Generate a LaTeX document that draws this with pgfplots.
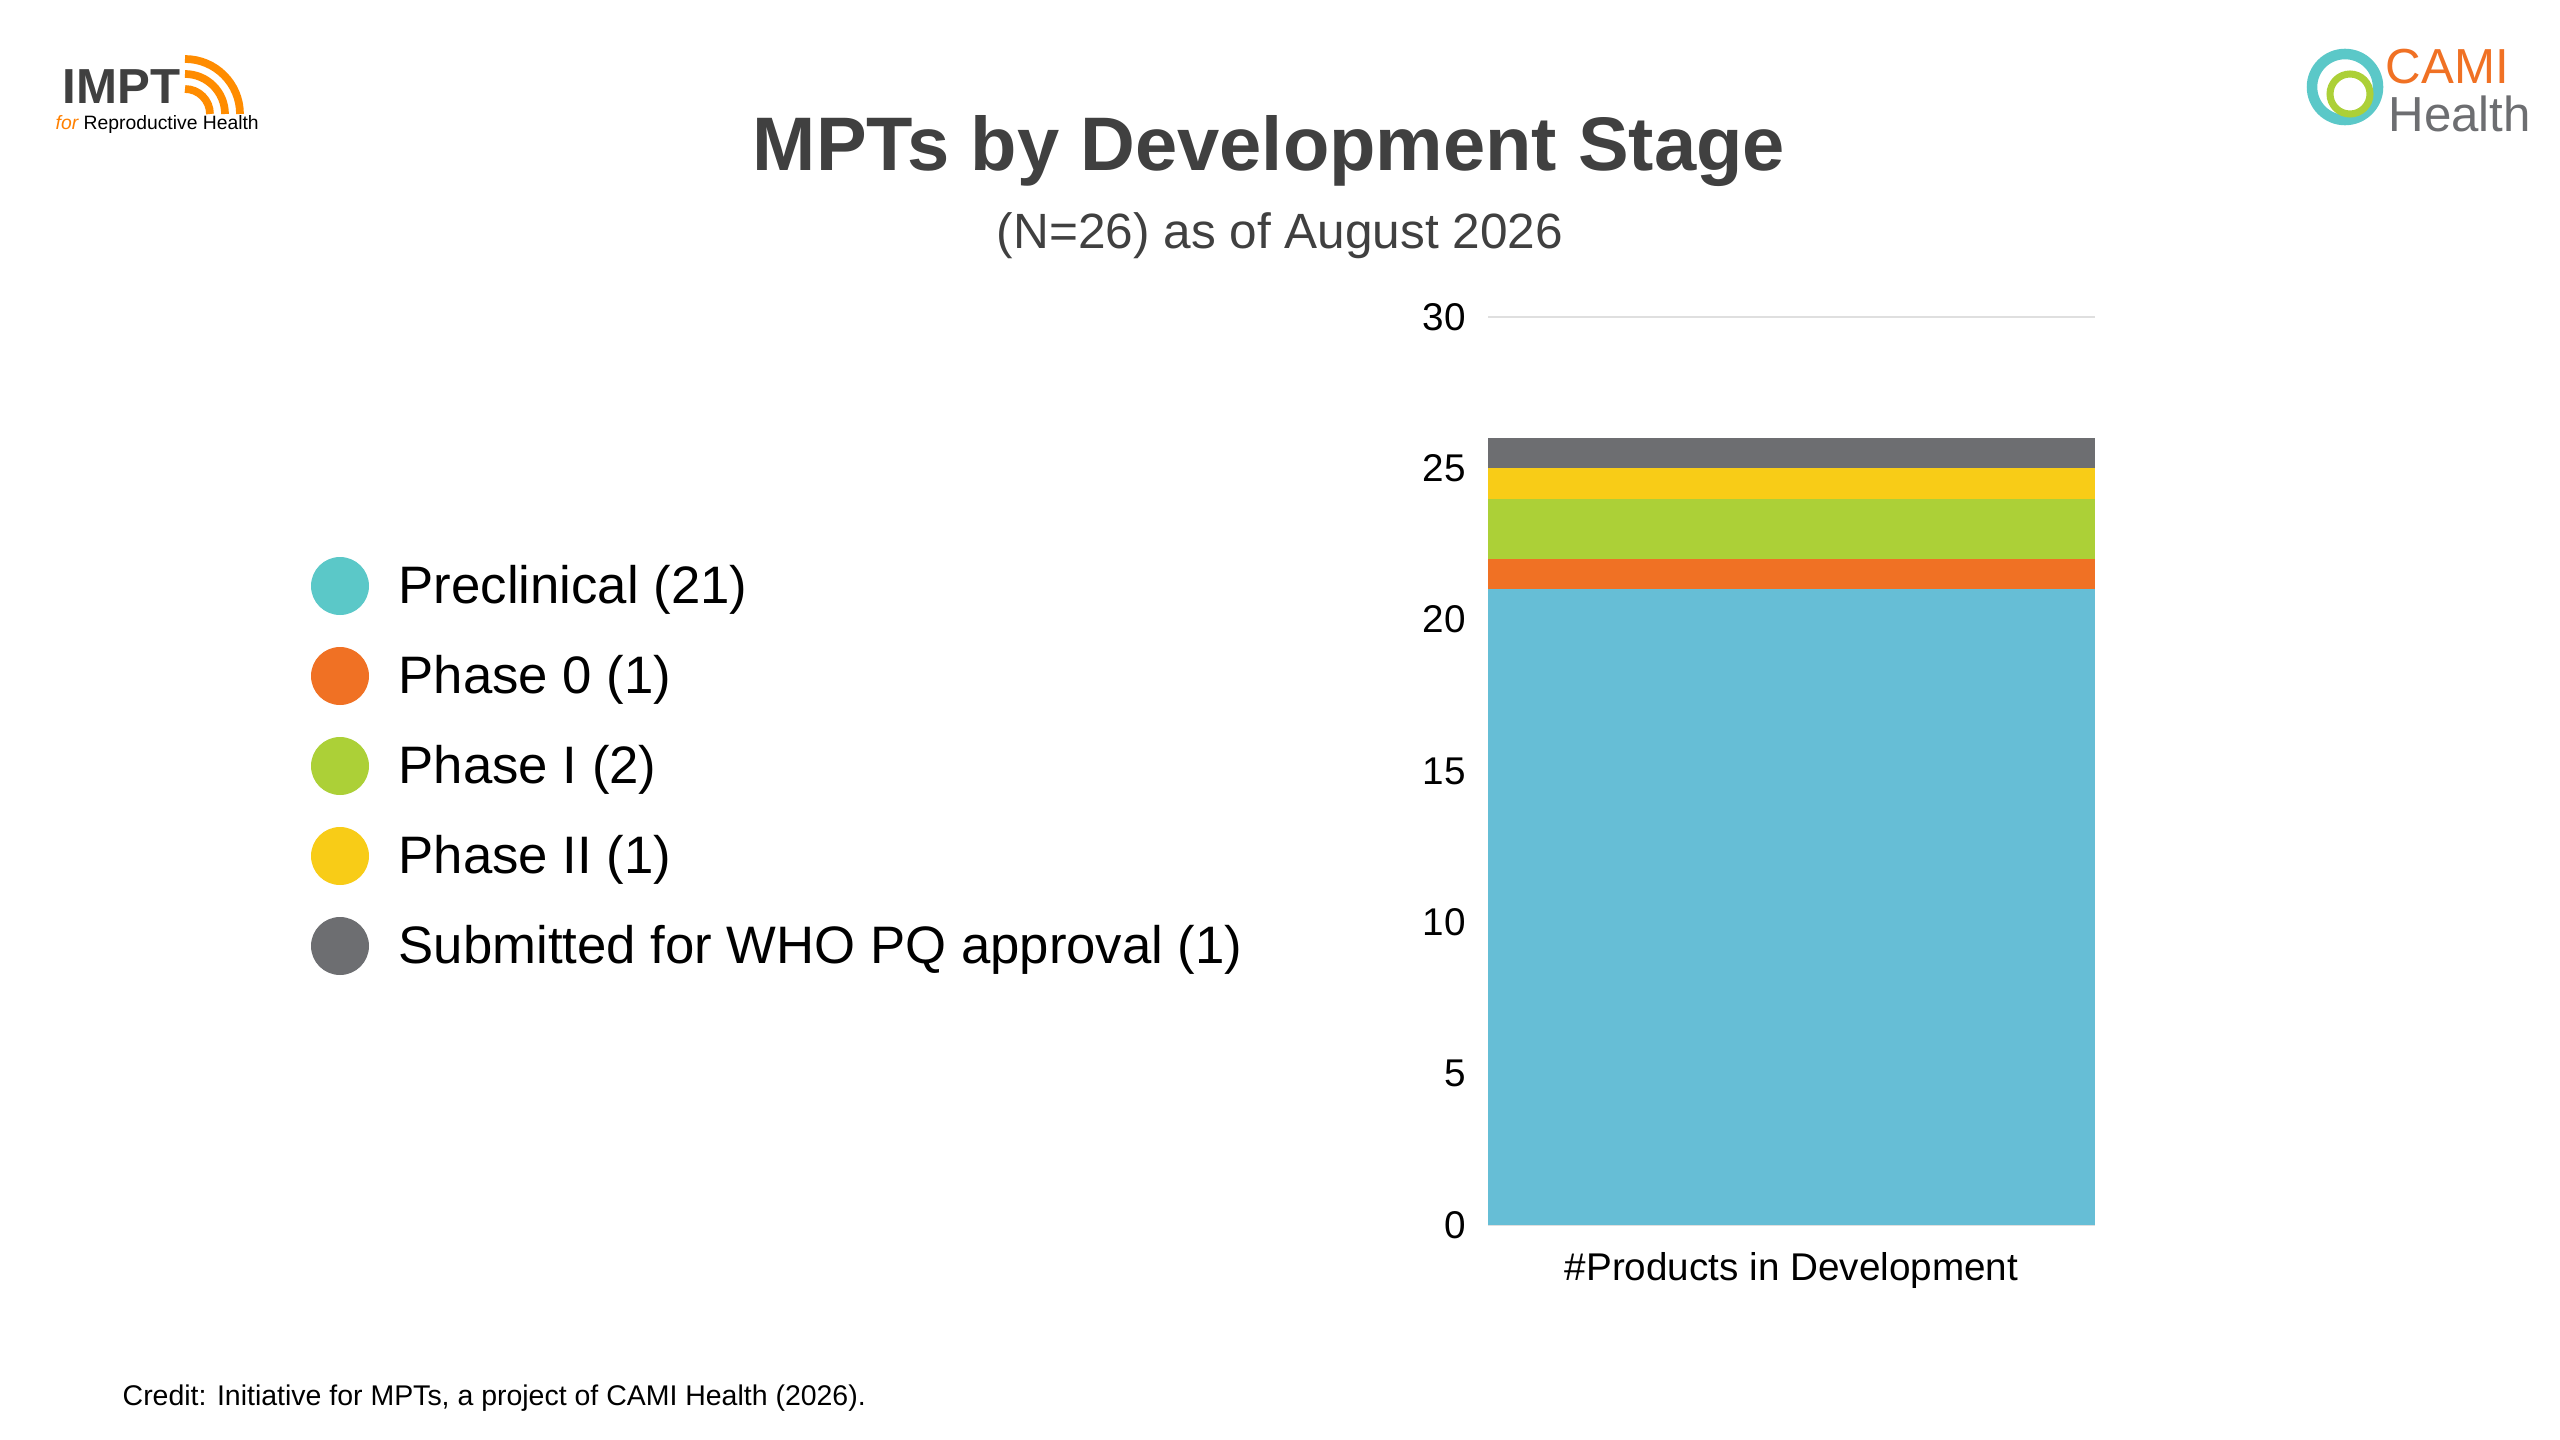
\documentclass[border=0pt]{standalone}
\usepackage{pgfplots}
\pgfplotsset{compat=1.18}
\usepackage{fontspec}
\setmainfont{Liberation Sans}
\definecolor{cPre}{HTML}{66BED6}
\definecolor{cPreL}{HTML}{5BC8C8}
\definecolor{cP0}{HTML}{F07124}
\definecolor{cP1}{HTML}{ACD037}
\definecolor{cP2}{HTML}{F8CC17}
\definecolor{cWHO}{HTML}{6D6E71}
\definecolor{txt}{HTML}{404040}
\begin{document}
\begin{tikzpicture}
\fill[white] (0,0) rectangle (25.6,14.39);
\node[font=\fontsize{21.6}{26}\selectfont\bfseries,text=txt] at (12.69,12.88) {MPTs by Development Stage};
\node[font=\fontsize{14.1}{17}\selectfont,text=txt] at (12.80,12.03) {(N=26) as of August 2026};
\foreach \y/\c/\t in {8.53/cPreL/Preclinical (21),7.63/cP0/Phase 0 (1),6.73/cP1/Phase I (2),5.83/cP2/Phase II (1),4.93/cWHO/Submitted for WHO PQ approval (1)}{
  \fill[\c] (3.40,\y) circle (0.29);
  \node[anchor=west,font=\fontsize{15}{18}\selectfont,inner sep=0] at (3.98,\y-0.04) {\t};
}
\node[anchor=west,font=\fontsize{8.1}{10}\selectfont,inner sep=0] at (1.22,0.41) {Credit: Initiative for MPTs, a project of CAMI Health (2026).};
% logos
\node[anchor=west,font=\fontsize{14}{16}\selectfont\bfseries,text=txt,inner sep=0] at (0.62,13.52) {IMPT};
\foreach \r in {0.25,0.4,0.55}{\draw[orange!90!yellow,line width=2.2pt] (1.85+\r,13.25) arc (0:90:\r);}
\node[anchor=west,font=\fontsize{5.5}{7}\selectfont,inner sep=0] at (0.55,13.14) {\textcolor{orange}{\itshape for} Reproductive Health};
\draw[cPreL,line width=3pt] (23.45,13.52) circle (0.33);
\draw[cP1,line width=2pt] (23.5,13.45) circle (0.2);
\node[anchor=west,font=\fontsize{14}{16}\selectfont,text=cP0,inner sep=0] at (23.85,13.72) {CAMI};
\node[anchor=west,font=\fontsize{14}{16}\selectfont,text=cWHO,inner sep=0] at (23.88,13.25) {Health};
\begin{axis}[at={(14.88cm,2.14cm)},anchor=south west,scale only axis,
  width=6.07cm,height=9.08cm,
  ybar stacked,bar width=6.07cm,
  xmin=-0.5,xmax=0.5,ymin=0,ymax=30,
  axis line style={draw=none},
  ytick={0,5,...,30},xtick={0},xticklabels={\#Products in Development},
  major tick length=0pt,
  ymajorgrids,grid style={gray!25},
  tick label style={font=\fontsize{11}{13}\selectfont},
  /pgf/number format/assume math mode=true,
  yticklabel style={xshift=-0.1cm},
  xticklabel style={font=\fontsize{11}{13}\selectfont,yshift=-0.15cm}]
\addplot[fill=cPre,draw=none] coordinates {(0,21)};
\addplot[fill=cP0,draw=none] coordinates {(0,1)};
\addplot[fill=cP1,draw=none] coordinates {(0,2)};
\addplot[fill=cP2,draw=none] coordinates {(0,1)};
\addplot[fill=cWHO,draw=none] coordinates {(0,1)};
\end{axis}
\end{tikzpicture}
\end{document}
